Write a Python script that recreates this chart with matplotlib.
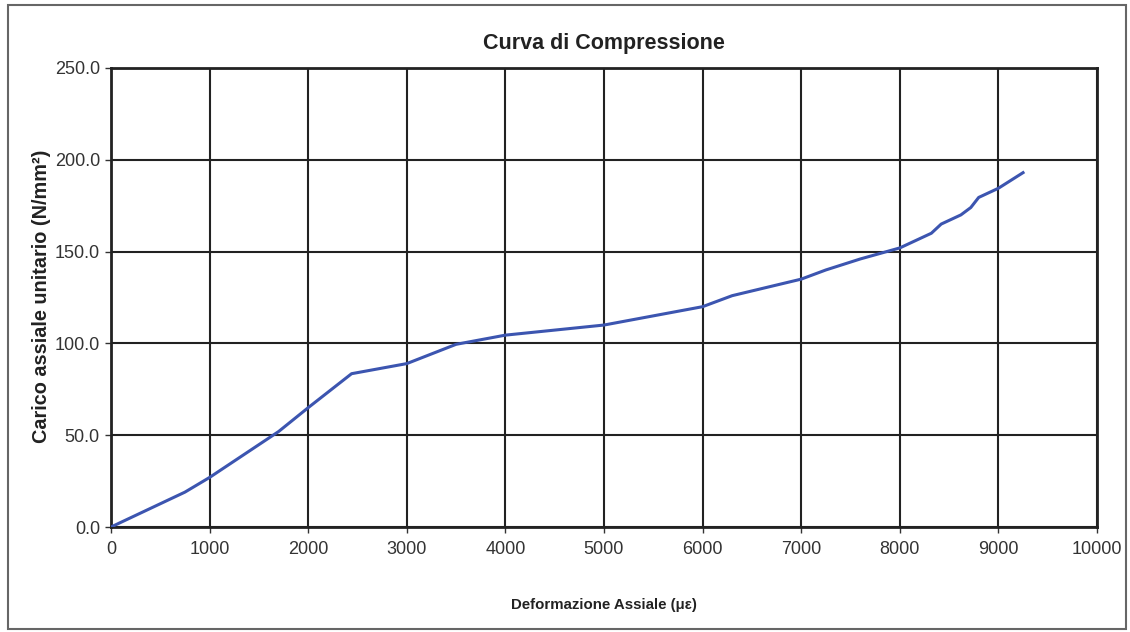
import matplotlib
matplotlib.use("Agg")
import matplotlib.pyplot as plt
from matplotlib.patches import Rectangle

plt.rcParams['font.family'] = ['Liberation Sans', 'DejaVu Sans']

strain = [0, 750, 1000, 1700, 2000, 2440, 3000, 3500, 4000, 5000, 6000, 6300,
          7000, 7250, 7600, 8000, 8200, 8320, 8420, 8620, 8720, 8800, 9000, 9250]
stress = [0, 19, 27, 52, 65, 83.5, 89, 99.5, 104.5, 110, 120, 126,
          135, 140, 146, 152, 157, 160, 165, 170, 174, 179.5, 184.5, 193]
x_ticks = [0, 1000, 2000, 3000, 4000, 5000, 6000, 7000, 8000, 9000, 10000]
y_ticks = [0, 50, 100, 150, 200, 250]

fig = plt.figure(figsize=(11.3, 6.32), dpi=100)
fig.patches.append(Rectangle((8/1130, 3/632), 1118/1130, 624/632, transform=fig.transFigure,
                             fill=False, edgecolor='#666666', linewidth=1.5))
ax = fig.add_axes([111/1130, 105/632, 986/1130, 459/632])
ax.plot(strain, stress, color='#3c55b0', linewidth=2.2, zorder=3)
ax.set_xlim(0, 10000)
ax.set_ylim(0, 250)
ax.set_xticks(x_ticks)
ax.set_yticks(y_ticks)
ax.set_xticklabels([str(v) for v in x_ticks])
ax.set_yticklabels([f"{v:.1f}" for v in y_ticks])
ax.grid(True, color='#222222', linewidth=1.5)
ax.set_axisbelow(True)
for s in ax.spines.values():
    s.set_linewidth(2)
    s.set_color('#222222')
ax.tick_params(axis='both', labelsize=13, length=4, width=1, color='#333333', labelcolor='#333333')
ax.tick_params(axis='x', pad=6)
ax.tick_params(axis='y', pad=4)
ax.set_title("Curva di Compressione", fontsize=15.5, fontweight='bold', pad=14, color='#222222')
ax.set_xlabel("Deformazione Assiale (με)", fontsize=10.8, fontweight='bold', labelpad=29, color='#222222')
ax.set_ylabel("Carico assiale unitario (N/mm²)", fontsize=14.3, fontweight='bold', color='#222222')
ax.yaxis.set_label_coords(-0.061, 0.503)
fig.savefig("out.png", dpi=100)
